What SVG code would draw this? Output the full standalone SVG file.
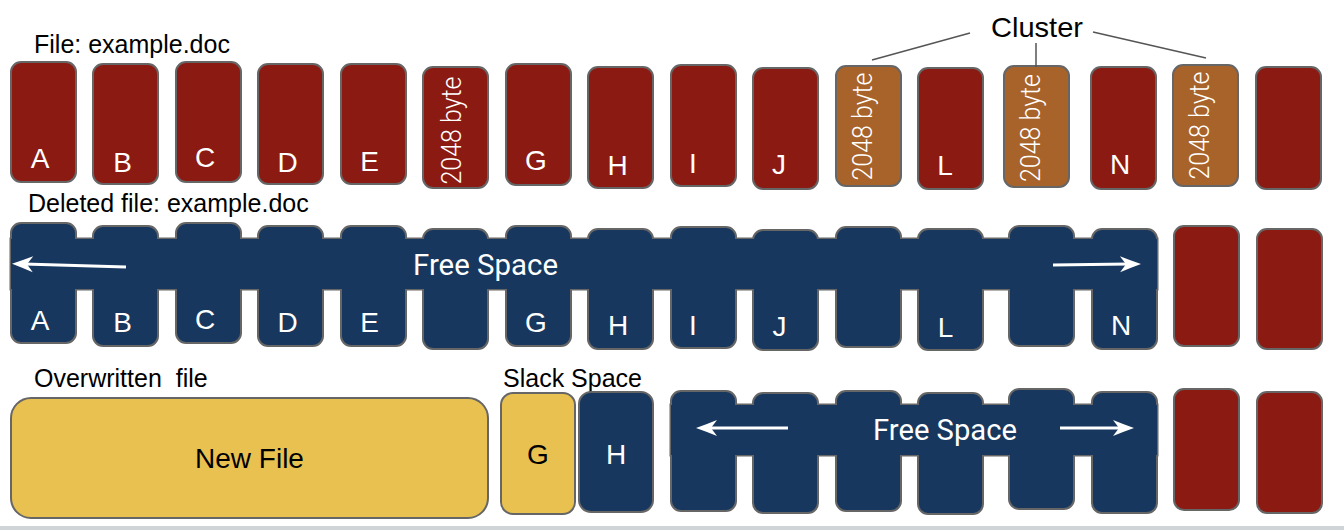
<svg xmlns="http://www.w3.org/2000/svg" width="1344" height="530" viewBox="0 0 1344 530">
<style>
.red{fill:#8B1A12;stroke:#666;stroke-width:2}
.brown{fill:#A8632A;stroke:#666;stroke-width:2}
.navy{fill:#17375E;stroke:#666;stroke-width:2}
.yellow{fill:#E9C150;stroke:#666;stroke-width:2}
.bandline{fill:#17375E;stroke:#666;stroke-width:3}
.bandfill{fill:#17375E;stroke:none}
.lbl{font-family:"Liberation Sans",Arial,sans-serif;font-size:25px;fill:#000}
.let{font-family:"Liberation Sans",Arial,sans-serif;font-size:28px;fill:#fff;text-anchor:middle}
.blk{fill:#000}
.byte{font-family:Roboto,"Liberation Sans",sans-serif;font-weight:300;font-size:27px;fill:#fff;text-anchor:middle}
.fs{font-family:Roboto,"Liberation Sans",sans-serif;font-size:29px;fill:#fff}
.arr{stroke:#fff;stroke-width:3;fill:none;marker-end:url(#ah)}
.cl{stroke:#555;stroke-width:1.5;fill:none}
</style>
<defs>
<marker id="ah" markerUnits="userSpaceOnUse" markerWidth="26" markerHeight="20" viewBox="-22 -10 26 20" refX="-12" refY="0" orient="auto" overflow="visible">
<path d="M0,0 Q-10,-3.5 -21,-8 L-15,0 L-21,8 Q-10,3.5 0,0Z" fill="#fff"/>
</marker>
</defs>
<rect x="0" y="0" width="1344" height="530" fill="#fff"/>
<rect x="0" y="526" width="1344" height="4" fill="#cfd4d9"/>

<g id="labels">
<text class="lbl" x="34" y="53">File: example.doc</text>
<text class="lbl" x="28" y="212">Deleted file: example.doc</text>
<text class="lbl" x="34" y="387" style="white-space:pre">Overwritten  file</text>
<text class="lbl" x="503" y="387">Slack Space</text>
</g>

<g id="cluster">
<text class="lbl" x="991" y="37" style="font-size:28px" textLength="92" lengthAdjust="spacingAndGlyphs">Cluster</text>
</g>

<!-- Top row -->
<g id="top-A"><rect class="red" x="11" y="62" width="65" height="120" rx="10"/><text class="let" x="40" y="168">A</text></g>
<g id="top-B"><rect class="red" x="93" y="64" width="65" height="120" rx="10"/><text class="let" x="122.5" y="172">B</text></g>
<g id="top-C"><rect class="red" x="176" y="62" width="65" height="120" rx="10"/><text class="let" x="205" y="167">C</text></g>
<g id="top-D"><rect class="red" x="258" y="64" width="65" height="120" rx="10"/><text class="let" x="287.5" y="172">D</text></g>
<g id="top-E"><rect class="red" x="341" y="64" width="65" height="120" rx="10"/><text class="let" x="369.5" y="171">E</text></g>
<g id="top-F"><rect class="red" x="423" y="67" width="65" height="121" rx="10"/><text class="byte" transform="translate(461,130.5) rotate(-90)" textLength="108" lengthAdjust="spacingAndGlyphs">2048 byte</text></g>
<g id="top-G"><rect class="red" x="506" y="64" width="65" height="121" rx="10"/><text class="let" x="536" y="170">G</text></g>
<g id="top-H"><rect class="red" x="588" y="67" width="65" height="121" rx="10"/><text class="let" x="617.5" y="175">H</text></g>
<g id="top-I"><rect class="red" x="671" y="65" width="65" height="121" rx="10"/><text class="let" x="693" y="173">I</text></g>
<g id="top-J"><rect class="red" x="753" y="68" width="65" height="121" rx="10"/><text class="let" x="779" y="174">J</text></g>
<g id="top-K"><rect class="brown" x="836" y="66" width="65" height="120" rx="10"/><text class="byte" transform="translate(872,126.5) rotate(-90)" textLength="108" lengthAdjust="spacingAndGlyphs">2048 byte</text></g>
<g id="top-L"><rect class="red" x="918" y="68" width="65" height="121" rx="10"/><text class="let" x="945" y="175">L</text></g>
<g id="top-M"><rect class="brown" x="1004" y="66" width="65" height="121" rx="10"/><text class="byte" transform="translate(1040,128) rotate(-90)" textLength="108" lengthAdjust="spacingAndGlyphs">2048 byte</text></g>
<g id="top-N"><rect class="red" x="1091" y="67" width="65" height="122" rx="10"/><text class="let" x="1120" y="174">N</text></g>
<g id="top-O"><rect class="brown" x="1173" y="65" width="65" height="121" rx="10"/><text class="byte" transform="translate(1209,125.5) rotate(-90)" textLength="108" lengthAdjust="spacingAndGlyphs">2048 byte</text></g>
<g id="top-P"><rect class="red" x="1256" y="67" width="65" height="122" rx="10"/></g>

<!-- Middle row -->
<g id="mid-band-outline"><rect class="bandline" x="11" y="239" width="1146" height="50"/></g>
<g id="mid-A"><rect class="navy" x="11" y="223" width="65" height="120" rx="10"/><text class="let" x="40" y="330">A</text></g>
<g id="mid-B"><rect class="navy" x="93" y="226" width="65" height="120" rx="10"/><text class="let" x="122.5" y="332">B</text></g>
<g id="mid-C"><rect class="navy" x="176" y="223" width="65" height="120" rx="10"/><text class="let" x="205" y="329">C</text></g>
<g id="mid-D"><rect class="navy" x="258" y="226" width="65" height="120" rx="10"/><text class="let" x="287.5" y="332">D</text></g>
<g id="mid-E"><rect class="navy" x="341" y="226" width="65" height="120" rx="10"/><text class="let" x="369.5" y="332">E</text></g>
<g id="mid-F"><rect class="navy" x="423" y="229" width="65" height="120" rx="10"/></g>
<g id="mid-G"><rect class="navy" x="506" y="226" width="65" height="120" rx="10"/><text class="let" x="536" y="332">G</text></g>
<g id="mid-H"><rect class="navy" x="588" y="229" width="65" height="120" rx="10"/><text class="let" x="618" y="335">H</text></g>
<g id="mid-I"><rect class="navy" x="671" y="227" width="65" height="121" rx="10"/><text class="let" x="693" y="335">I</text></g>
<g id="mid-J"><rect class="navy" x="753" y="230" width="65" height="120" rx="10"/><text class="let" x="779.5" y="336">J</text></g>
<g id="mid-K"><rect class="navy" x="836" y="227" width="65" height="120" rx="10"/></g>
<g id="mid-L"><rect class="navy" x="918" y="229" width="65" height="121" rx="10"/><text class="let" x="945.5" y="337">L</text></g>
<g id="mid-M"><rect class="navy" x="1009" y="226" width="65" height="120" rx="10"/></g>
<g id="mid-N"><rect class="navy" x="1092" y="229" width="65" height="120" rx="10"/><text class="let" x="1121" y="335">N</text></g>
<g id="mid-band"><rect class="bandfill" x="11" y="239" width="1146" height="50"/><text class="fs" x="413" y="275" textLength="145" lengthAdjust="spacingAndGlyphs">Free Space</text></g>
<g id="mid-O"><rect class="red" x="1174" y="226" width="65" height="120" rx="10"/></g>
<g id="mid-P"><rect class="red" x="1257" y="229" width="65" height="120" rx="10"/></g>

<!-- Bottom row -->
<g id="new-file"><rect class="yellow" x="11" y="398" width="477" height="120" rx="20"/><text class="let blk" x="249.5" y="468">New File</text></g>
<g id="slack-G"><rect class="yellow" x="501" y="393" width="74" height="121" rx="12"/><text class="let blk" x="538" y="464">G</text></g>
<g id="bot-H"><rect class="navy" x="579" y="392" width="74" height="120" rx="12"/><text class="let" x="616" y="464">H</text></g>
<g id="bot-band-outline"><rect class="bandline" x="671" y="405" width="486" height="50"/></g>
<g id="bot-1"><rect class="navy" x="671" y="391" width="65" height="120" rx="10"/></g>
<g id="bot-2"><rect class="navy" x="753" y="393" width="65" height="120" rx="10"/></g>
<g id="bot-3"><rect class="navy" x="836" y="391" width="65" height="120" rx="10"/></g>
<g id="bot-4"><rect class="navy" x="918" y="393" width="65" height="121" rx="10"/></g>
<g id="bot-5"><rect class="navy" x="1009" y="389" width="65" height="120" rx="10"/></g>
<g id="bot-6"><rect class="navy" x="1092" y="392" width="65" height="121" rx="10"/></g>
<g id="bot-band"><rect class="bandfill" x="671" y="405" width="486" height="50"/><text class="fs" x="873" y="440" textLength="144" lengthAdjust="spacingAndGlyphs">Free Space</text></g>
<g id="bot-O"><rect class="red" x="1174" y="389" width="65" height="121" rx="10"/></g>
<g id="bot-P"><rect class="red" x="1257" y="392" width="65" height="121" rx="10"/></g>

<g id="connectors">
<path class="cl" d="M970,33 L872,60"/>
<path class="cl" d="M1036,43 L1036,67"/>
<path class="cl" d="M1093,32 L1206,58"/>
<path class="arr" d="M126,267 L24,264.1"/>
<path class="arr" d="M1053,265 L1129,264.1"/>
<path class="arr" d="M788,428 L708,428"/>
<path class="arr" d="M1060,428 L1122,428"/>
</g>
</svg>
